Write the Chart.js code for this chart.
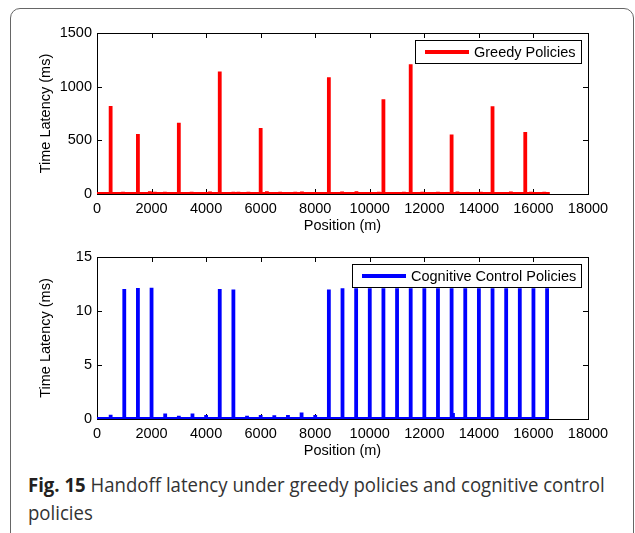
<!DOCTYPE html>
<html><head><meta charset="utf-8">
<script src="https://cdn.jsdelivr.net/npm/chart.js@4"></script>
<style>
html,body{margin:0;padding:0;background:#fff;width:635px;height:533px;overflow:hidden;}
#frame{position:absolute;left:10px;top:8px;width:624px;height:640px;border:1px solid #666;border-radius:10px;box-sizing:border-box;}
.cw{position:absolute;left:0;width:635px;}
#c1w{top:0;height:240px;}
#c2w{top:240px;height:225px;}
.cap{position:absolute;left:27.5px;font-family:"Open Sans";font-size:20px;line-height:28px;color:#333;white-space:nowrap;transform-origin:0 0;}
#cap1{top:471px;}
#cap2{top:499.3px;}
</style></head><body>
<div id="frame"></div>
<div class="cw" id="c1w"><canvas id="c1" width="635" height="240"></canvas></div>
<div class="cw" id="c2w"><canvas id="c2" width="635" height="225"></canvas></div>
<div class="cap" id="cap1"><b style="color:#231f20">Fig. 15</b> Handoff latency under greedy policies and cognitive control</div>
<div class="cap" id="cap2">policies</div>
<script>
// ---- data ----
const xTickValues = [0,2000,4000,6000,8000,10000,12000,14000,16000,18000];
const greedyTickValues = [0,500,1000,1500];
const cogTickValues = [0,5,10,15];

const greedySpikePos = [500,1500,3000,4500,6000,8500,10500,11500,13000,14500,15700];
const greedySpikeVal = [820,558,664,1141,614,1088,883,1210,555,817,577];
const greedyNoisePos = [220,955,1055,1937,2120,2243,2489,3224,3470,3960,4143,4265,4757,5000,5184,5430,5551,6228,6507,6717,7022,7268,7514,8004,8250,8985,9228,9511,10026,10331,11007,11250,11680,11926,12169,12500,13213,13518,13764,14070,14316,14805,15173,15418,15908,16154,16397];
const greedyNoiseVal = [18,22,15,25,20,18,22,15,20,16,24,18,15,22,20,17,21,25,16,22,18,20,23,17,19,24,15,26,18,20,16,22,19,21,17,20,23,16,18,22,15,19,24,17,21,18,20];
const greedyEnd = 16600;

const cogPos = [500,1000,1500,2000,2500,3000,3500,4000,4500,5000,5500,6000,6500,7000,7500,8000,8500,9000,9500,10000,10500,11000,11500,12000,12500,13000,13050,13500,14000,14500,15000,15500,16000,16500];
const cogVal = [0.4,12.04,12.13,12.16,0.52,0.3,0.5,0.37,12.04,12.0,0.3,0.37,0.34,0.37,0.6,0.37,12.0,12.1,12.1,12.1,12.1,12.1,12.1,12.1,12.1,12.1,0.55,12.1,12.1,12.1,12.1,12.1,12.1,12.1];
const cogEnd = 16500;

function buildSeries(posArrs, valArrs, end){
  const ev = [];
  posArrs.forEach((pa,k)=>pa.forEach((p,i)=>ev.push([p, valArrs[k][i]])));
  ev.sort((a,b)=>a[0]-b[0]);
  const pts = [{x:0,y:0}];
  ev.forEach(([p,v])=>{pts.push({x:p,y:0},{x:p,y:v},{x:p,y:0});});
  if (pts[pts.length-1].x < end) pts.push({x:end,y:0});
  return pts;
}

const FONT = 'Liberation Sans';
const FS = 14.5;

const matlabAxes = {
  id:'matlabAxes',
  beforeDatasetsDraw(chart){
    const {ctx, chartArea:a, scales:{x,y}} = chart;
    ctx.save();
    ctx.strokeStyle='#000'; ctx.lineWidth=1;
    ctx.beginPath();
    x.ticks.forEach(t=>{const px=Math.round(x.getPixelForValue(t.value))+0.5;
      ctx.moveTo(px,a.bottom); ctx.lineTo(px,a.bottom-5); ctx.moveTo(px,a.top); ctx.lineTo(px,a.top+5);});
    y.ticks.forEach(t=>{const py=Math.round(y.getPixelForValue(t.value))+0.5;
      ctx.moveTo(a.left,py); ctx.lineTo(a.left+5,py); ctx.moveTo(a.right,py); ctx.lineTo(a.right-5,py);});
    ctx.stroke();
    ctx.strokeRect(Math.round(a.left)+0.5, Math.round(a.top)+0.5, Math.round(a.right-a.left), Math.round(a.bottom-a.top));
    ctx.restore();
  },
  afterDatasetsDraw(chart){
    const {ctx, chartArea:a} = chart;
    const ds = chart.data.datasets[0];
    ctx.save();
    ctx.font = FS+'px "'+FONT+'"';
    const tw = ctx.measureText(ds.label).width;
    const h = 23, w = Math.round(59+tw+5);
    const right = Math.round(a.right-7), top = Math.round(a.top+7);
    const left = right - w;
    ctx.fillStyle='#fff';
    ctx.fillRect(left+0.5, top+0.5, w, h);
    ctx.strokeStyle='#000'; ctx.lineWidth=1;
    ctx.strokeRect(left+0.5, top+0.5, w, h);
    ctx.strokeStyle = ds.borderColor; ctx.lineWidth = 4;
    ctx.beginPath(); ctx.moveTo(left+10, top+h/2+0.5); ctx.lineTo(left+54, top+h/2+0.5); ctx.stroke();
    ctx.fillStyle='#000'; ctx.textBaseline='middle'; ctx.textAlign='left';
    ctx.fillText(ds.label, left+59, top+h/2+1);
    ctx.restore();
  }
};

function makeChart(id, label, color, data, yTicks, yMax, padTop){
  return new Chart(document.getElementById(id), {
    type:'line',
    data:{datasets:[{label, data, borderColor:color, backgroundColor:color, borderWidth:3.8, pointRadius:0, tension:0, fill:false, borderJoinStyle:'miter', borderCapStyle:'butt'}]},
    options:{
      responsive:false, animation:false, events:[],
      layout:{padding:{top:padTop, right:47, left:0, bottom:0}},
      plugins:{legend:{display:false}, tooltip:{enabled:false}},
      scales:{
        x:{type:'linear', min:0, max:18000,
          afterBuildTicks:s=>{s.ticks = xTickValues.map(v=>({value:v}));},
          afterFit:s=>{s.height=46;},
          grid:{display:false, drawTicks:false}, border:{display:false},
          ticks:{color:'#000', font:{family:FONT, size:FS}, padding:6, maxRotation:0, autoSkip:false, callback:v=>String(v)},
          title:{display:true, text:'Position (m)', color:'#000', font:{family:FONT, size:FS}, padding:{top:0,bottom:5}}
        },
        y:{type:'linear', min:0, max:yMax,
          afterBuildTicks:s=>{s.ticks = yTicks.map(v=>({value:v}));},
          afterFit:s=>{s.width=97;},
          grid:{display:false, drawTicks:false}, border:{display:false},
          ticks:{color:'#000', font:{family:FONT, size:FS}, padding:5, callback:v=>String(v)},
          title:{display:true, text:'Time Latency (ms)', color:'#000', font:{family:FONT, size:FS}, padding:{top:37,bottom:0}}
        }
      }
    },
    plugins:[matlabAxes]
  });
}

makeChart('c1','Greedy Policies','#ff0000', buildSeries([greedySpikePos, greedyNoisePos],[greedySpikeVal, greedyNoiseVal], greedyEnd), greedyTickValues, 1500, 33);
makeChart('c2','Cognitive Control Policies','#0000ff', buildSeries([cogPos],[cogVal], cogEnd), cogTickValues, 15, 17);

// fit caption width
const c1 = document.getElementById('cap1'), c2 = document.getElementById('cap2');
const sc = 577 / c1.offsetWidth;
c1.style.transform = 'scaleX('+sc+')';
c2.style.transform = 'scaleX('+sc+')';
</script>
</body></html>
